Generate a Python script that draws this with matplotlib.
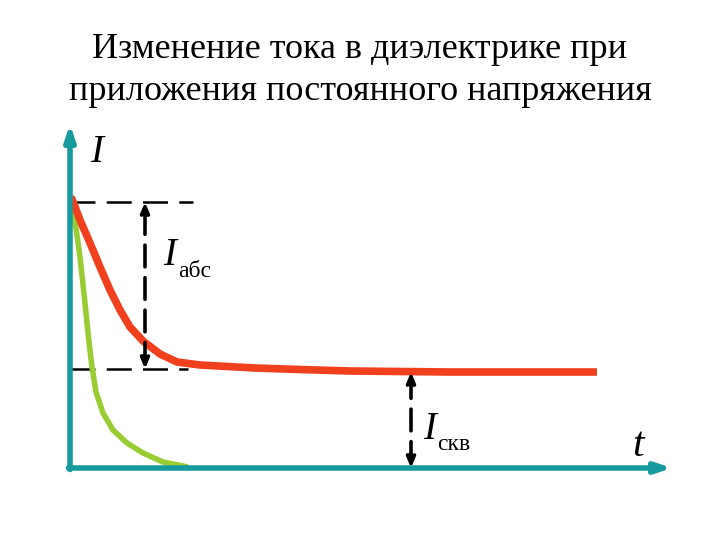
import numpy as np
import matplotlib.pyplot as plt

plt.rcParams['font.family'] = ['Liberation Serif', 'DejaVu Serif']

# curve data (t, I) in arbitrary units, origin at the axes corner
t_abs = [0, 0.2, 1.0, 2.0, 3.0, 4.0, 5.0, 6.0, 7.3, 9.0, 10.7, 13.0, 18.5, 23, 28, 38, 52.7]
i_abs = [27.0, 26.9, 24.8, 22.5, 20.1, 17.8, 15.8, 14.1, 12.7, 11.4, 10.6, 10.3, 10.0,
         9.85, 9.7, 9.6, 9.6]

t_fast = [0, 0.2, 0.6, 1.0, 1.5, 1.9, 2.2, 2.6, 3.3, 4.3, 5.7, 7.3, 9.3, 11.8]
i_fast = [27.0, 26.8, 24.0, 21.1, 16.5, 12.6, 10.1, 7.6, 5.5, 3.8, 2.5, 1.5, 0.6, 0.1]

i_top = 26.6     # level of the upper dashed line
i_steady = 9.9   # level of the lower dashed line
i_end = 9.6      # steady conduction current

red = '#f0401e'
green = '#99cc33'
teal = '#169a9e'

fig = plt.figure(figsize=(7.2, 5.4), dpi=100)
ax = fig.add_axes([0, 0, 1, 1])
ax.set_xlim(-7.0, 65.0)
ax.set_ylim(-7.2, 46.8)
ax.axis('off')

# axes with arrows
ax.annotate('', xy=(60.2, 0), xytext=(-0.15, 0),
            arrowprops=dict(arrowstyle='-|>,head_length=0.9,head_width=0.3',
                            color=teal, lw=4, shrinkA=0, shrinkB=0))
ax.annotate('', xy=(0, 34.4), xytext=(0, -0.15),
            arrowprops=dict(arrowstyle='-|>,head_length=0.9,head_width=0.3',
                            color=teal, lw=4, shrinkA=0, shrinkB=0))

# dashed guide lines
ax.plot([0, 12.3], [i_top, i_top], color='black', lw=1.8, dashes=(10, 4.5))
ax.plot([0, 11.8], [i_steady, i_steady], color='black', lw=1.8, dashes=(10, 4.5))

# curves
ax.plot(t_fast, i_fast, color=green, lw=4, solid_capstyle='butt', solid_joinstyle='round')
ax.plot(t_abs, i_abs, color=red, lw=5.5, solid_capstyle='butt', solid_joinstyle='round')

# double-headed dimension arrows
for x0, y0, y1 in [(7.5, i_steady, i_top), (34.1, 0, i_end)]:
    ax.annotate('', xy=(x0, y1), xytext=(x0, y0),
                arrowprops=dict(arrowstyle='<|-|>,head_length=0.6,head_width=0.25',
                                color='black', lw=2.6, linestyle=(0, (6, 3)),
                                shrinkA=0, shrinkB=0))

# labels
ax.text(2.0, 30.6, 'I', fontsize=28, style='italic', ha='left', va='baseline')
ax.text(9.3, 20.3, 'I', fontsize=28, style='italic', ha='left', va='baseline')
ax.text(10.8, 19.1, 'абс', fontsize=17, ha='left', va='baseline')
ax.text(35.3, 2.9, 'I', fontsize=28, style='italic', ha='left', va='baseline')
ax.text(36.7, 1.8, 'скв', fontsize=17, ha='left', va='baseline')
ax.text(56.2, 1.2, 't', fontsize=30, style='italic', ha='left', va='baseline')

# title
fig.text(0.5, 1 - 50 / 540, 'Изменение тока в диэлектрике при', fontsize=26,
         ha='center', va='center')
fig.text(0.5, 1 - 92 / 540, 'приложения постоянного напряжения', fontsize=26,
         ha='center', va='center')

fig.savefig('out.png', dpi=100)
